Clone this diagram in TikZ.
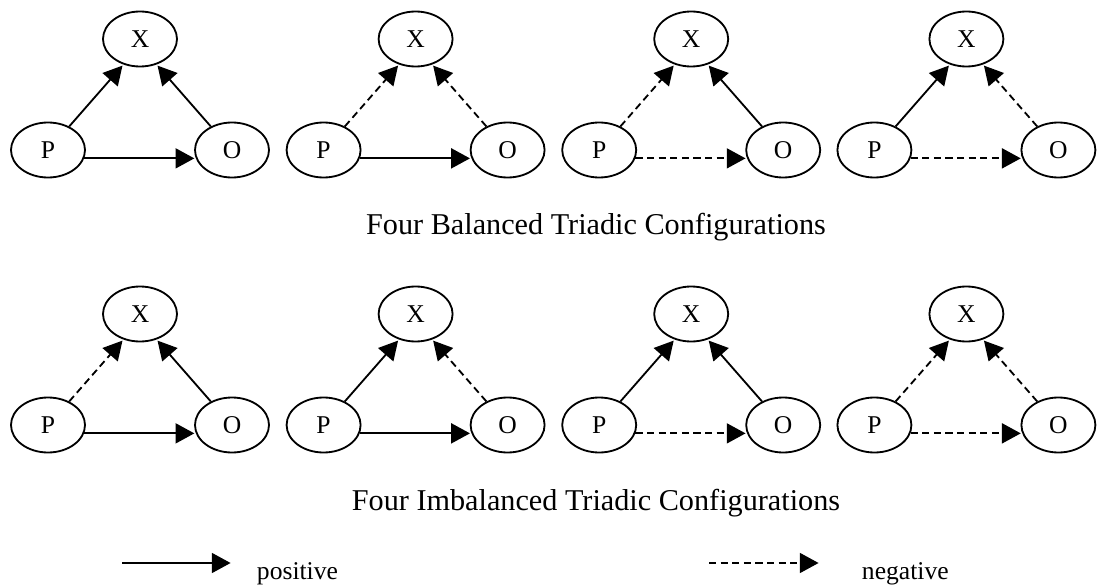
\documentclass[tikz,border=0pt]{standalone}
\usepackage{fontspec}
\setmainfont{Liberation Serif}
\usepackage{tikz}
\usetikzlibrary{shapes.geometric}
\usetikzlibrary{arrows.meta}

\begin{document}
\begin{tikzpicture}[
	ent/.style={ellipse, draw, line width=1.3pt, minimum width=1.85cm, minimum height=1.375cm, inner sep=0pt, font=\fontsize{18.2}{20}\selectfont},
	posedge/.style={line width=1.3pt, shorten >=1pt, -{Triangle[length=0.47cm, width=0.5cm]}},
	negedge/.style={posedge, dash pattern=on 0.18cm off 0.11cm},
	capt/.style={anchor=base, font=\fontsize{21.5}{25}\selectfont},
	legtxt/.style={anchor=base west, font=\fontsize{18.2}{22}\selectfont}]
		\useasboundingbox (0, 0) rectangle (27.425, 14.625);
		% Balanced triads:
		\node[ent](Xb1) at (3.5, 13.65){X};
		\node[ent](Pb1) at (1.2, 10.875){P};
		\node[ent](Ob1) at (5.8, 10.875){O};
		\draw[posedge] (Pb1.48) -- (Xb1.237);
		\draw[posedge] (Ob1.132) -- (Xb1.303);
		\draw[posedge] (Pb1.-13) -- (Ob1.193);
		\node[ent](Xb2) at (10.39, 13.65){X};
		\node[ent](Pb2) at (8.09, 10.875){P};
		\node[ent](Ob2) at (12.69, 10.875){O};
		\draw[negedge] (Pb2.48) -- (Xb2.237);
		\draw[negedge] (Ob2.132) -- (Xb2.303);
		\draw[posedge] (Pb2.-13) -- (Ob2.193);
		\node[ent](Xb3) at (17.28, 13.65){X};
		\node[ent](Pb3) at (14.98, 10.875){P};
		\node[ent](Ob3) at (19.58, 10.875){O};
		\draw[negedge] (Pb3.48) -- (Xb3.237);
		\draw[posedge] (Ob3.132) -- (Xb3.303);
		\draw[negedge] (Pb3.-13) -- (Ob3.193);
		\node[ent](Xb4) at (24.16, 13.65){X};
		\node[ent](Pb4) at (21.86, 10.875){P};
		\node[ent](Ob4) at (26.46, 10.875){O};
		\draw[posedge] (Pb4.48) -- (Xb4.237);
		\draw[negedge] (Ob4.132) -- (Xb4.303);
		\draw[negedge] (Pb4.-13) -- (Ob4.193);
		\node[capt](Cb) at (14.9, 8.75){Four Balanced Triadic Configurations};
		% Imbalanced triads:
		\node[ent](Xi1) at (3.5, 6.775){X};
		\node[ent](Pi1) at (1.2, 4){P};
		\node[ent](Oi1) at (5.8, 4){O};
		\draw[negedge] (Pi1.48) -- (Xi1.237);
		\draw[posedge] (Oi1.132) -- (Xi1.303);
		\draw[posedge] (Pi1.-13) -- (Oi1.193);
		\node[ent](Xi2) at (10.39, 6.775){X};
		\node[ent](Pi2) at (8.09, 4){P};
		\node[ent](Oi2) at (12.69, 4){O};
		\draw[posedge] (Pi2.48) -- (Xi2.237);
		\draw[negedge] (Oi2.132) -- (Xi2.303);
		\draw[posedge] (Pi2.-13) -- (Oi2.193);
		\node[ent](Xi3) at (17.28, 6.775){X};
		\node[ent](Pi3) at (14.98, 4){P};
		\node[ent](Oi3) at (19.58, 4){O};
		\draw[posedge] (Pi3.48) -- (Xi3.237);
		\draw[posedge] (Oi3.132) -- (Xi3.303);
		\draw[negedge] (Pi3.-13) -- (Oi3.193);
		\node[ent](Xi4) at (24.16, 6.775){X};
		\node[ent](Pi4) at (21.86, 4){P};
		\node[ent](Oi4) at (26.46, 4){O};
		\draw[negedge] (Pi4.48) -- (Xi4.237);
		\draw[negedge] (Oi4.132) -- (Xi4.303);
		\draw[negedge] (Pi4.-13) -- (Oi4.193);
		\node[capt](Ci) at (14.9, 1.875){Four Imbalanced Triadic Configurations};
		% Legend:
		\coordinate (L1) at (3.05, 0.55);
		\coordinate (L2) at (5.8, 0.55);
		\coordinate (L3) at (17.725, 0.55);
		\coordinate (L4) at (20.5, 0.55);
		\draw[posedge] (L1) -- (L2);
		\draw[negedge] (L3) -- (L4);
		\node[legtxt](Lp) at (6.3, 0.15){positive};
		\node[legtxt](Ln) at (21.425, 0.15){negative};
	\end{tikzpicture}
\end{document}
